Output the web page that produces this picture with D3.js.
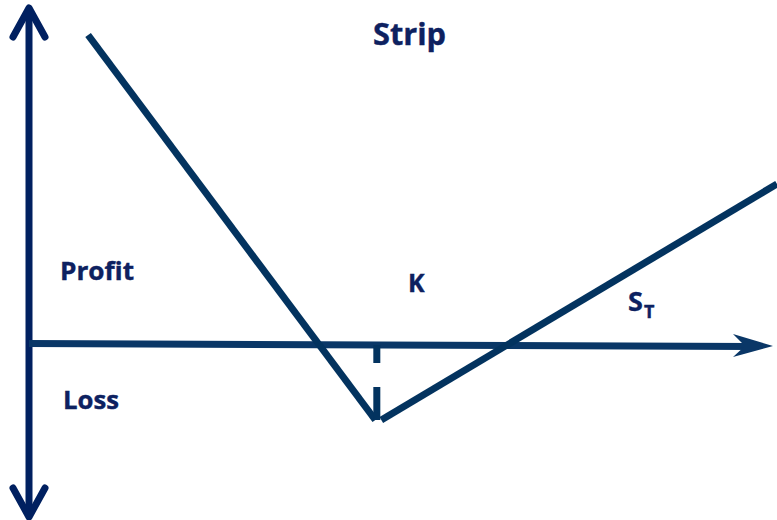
<!DOCTYPE html>
<html lang="en">
<head>
    <meta charset="UTF-8">
    <title>Strip</title>
    <script src="https://d3js.org/d3.v7.min.js"></script>
    <style>
        body {
            margin: 0;
            padding: 0;
            background: #ffffff;
        }

        .label {
            font-family: "Open Sans", sans-serif;
            font-weight: 700;
            fill: #0d2160;
            stroke: #0d2160;
            stroke-width: 0.4px;
        }
    </style>
</head>
<body>
    <svg id="chart"></svg>

    <script>
        // Strike price and payoff segments (S = underlying price, p = profit)
        const strike = 46.5;
        const leftLeg = [{ s: 7.9, p: 155 }, { s: 46.3, p: -37.5 }];
        const rightLeg = [{ s: 47.1, p: -37.5 }, { s: 100, p: 80.5 }];

        // Text labels
        const titleText = "Strip";
        const profitText = "Profit";
        const lossText = "Loss";
        const strikeText = "K";

        const width = 777;
        const height = 520;

        const svg = d3.select("#chart")
            .attr("width", width)
            .attr("height", height);

        // Scales: price along x, profit along y (zero sits on the x axis)
        const xScale = d3.scaleLinear()
            .domain([0, 100])
            .range([29, 777]);

        const yScale = d3.scaleLinear()
            .domain([-100, 100])
            .range([545, 145]);

        const axisColor = "#002060";
        const lineColor = "#03335f";

        // Y axis: vertical line with open arrowheads at both ends
        const yAxisX = xScale(0);
        const yTop = 8, yBottom = 517;
        svg.append("line")
            .attr("x1", yAxisX).attr("x2", yAxisX)
            .attr("y1", yTop + 2).attr("y2", yBottom - 2)
            .attr("stroke", axisColor)
            .attr("stroke-width", 7);

        [[yTop, 1], [yBottom, -1]].forEach(([tip, dir]) => {
            svg.append("polyline")
                .attr("points", `${yAxisX - 16},${tip + dir * 29} ${yAxisX},${tip} ${yAxisX + 16},${tip + dir * 29}`)
                .attr("fill", "none")
                .attr("stroke", axisColor)
                .attr("stroke-width", 7)
                .attr("stroke-linecap", "round")
                .attr("stroke-linejoin", "round");
        });

        // X axis: slightly tilted line with a notched arrowhead
        const y0 = yScale(0);
        svg.append("line")
            .attr("x1", yAxisX).attr("y1", y0 - 1.5)
            .attr("x2", 750).attr("y2", y0 + 1.5)
            .attr("stroke", "#0a3767")
            .attr("stroke-width", 7);

        svg.append("polygon")
            .attr("points", `773,${y0 + 1} 733,${y0 - 11} 745,${y0 + 1} 733,${y0 + 12}`)
            .attr("fill", "#0a3767");

        // Payoff lines
        const line = d3.line()
            .x(d => xScale(d.s))
            .y(d => yScale(d.p));

        [leftLeg, rightLeg].forEach(leg => {
            svg.append("path")
                .datum(leg)
                .attr("d", line)
                .attr("fill", "none")
                .attr("stroke", lineColor)
                .attr("stroke-width", 7);
        });

        // Dashed marker at the strike
        svg.append("line")
            .attr("x1", xScale(strike)).attr("x2", xScale(strike))
            .attr("y1", y0).attr("y2", yScale(-37.5))
            .attr("stroke", lineColor)
            .attr("stroke-width", 7)
            .attr("stroke-dasharray", "18,24,60");

        // Labels
        svg.append("text")
            .attr("class", "label")
            .attr("x", 373).attr("y", 45)
            .attr("textLength", 73)
            .attr("lengthAdjust", "spacingAndGlyphs")
            .style("font-size", "30px")
            .text(titleText);

        svg.append("text")
            .attr("class", "label")
            .attr("x", 60).attr("y", 280)
            .attr("textLength", 74)
            .attr("lengthAdjust", "spacingAndGlyphs")
            .style("font-size", "25px")
            .text(profitText);

        svg.append("text")
            .attr("class", "label")
            .attr("x", 63).attr("y", 409)
            .attr("textLength", 56)
            .attr("lengthAdjust", "spacingAndGlyphs")
            .style("font-size", "25px")
            .text(lossText);

        svg.append("text")
            .attr("class", "label")
            .attr("x", 408).attr("y", 292)
            .style("font-size", "25px")
            .text(strikeText);

        const st = svg.append("text")
            .attr("class", "label")
            .attr("x", 628).attr("y", 311)
            .style("font-size", "27px");
        st.append("tspan").text("S");
        st.append("tspan")
            .attr("dy", 7)
            .attr("dx", 1)
            .style("font-size", "18px")
            .text("T");
    </script>
</body>
</html>
